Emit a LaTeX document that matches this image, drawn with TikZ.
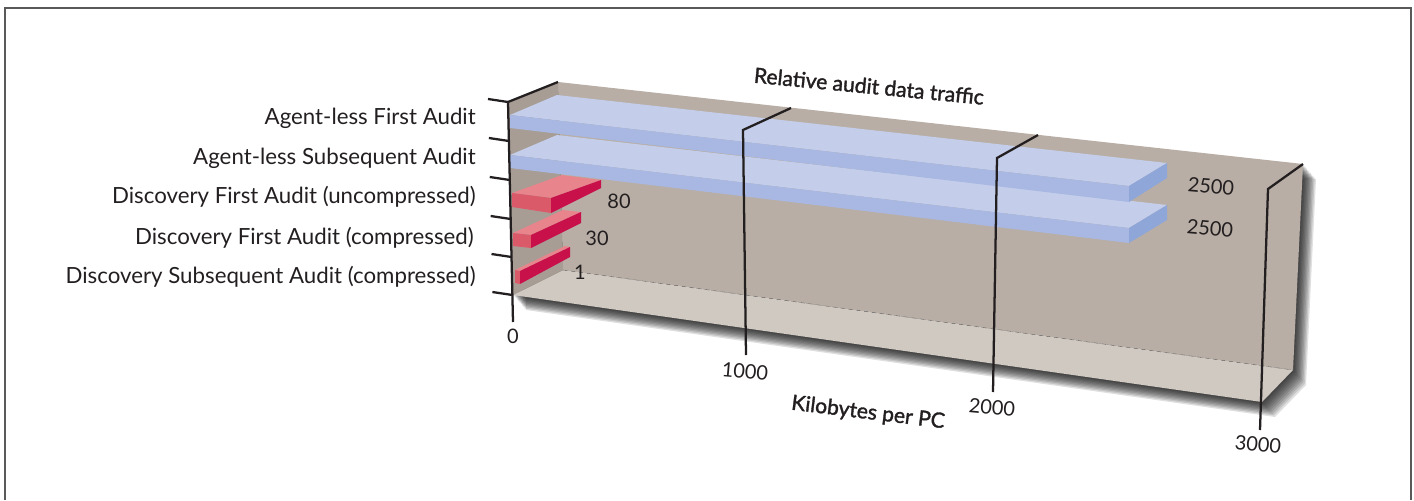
\documentclass[tikz,border=0pt]{standalone}
\usepackage{fontspec}
\setmainfont{Lato}
\definecolor{wallback}{RGB}{184,174,165}
\definecolor{wallside}{RGB}{167,157,149}
\definecolor{floorc}{RGB}{208,201,194}
\definecolor{bluetop}{RGB}{196,206,235}
\definecolor{bluefront}{RGB}{168,184,226}
\definecolor{blueend}{RGB}{143,166,216}
\definecolor{redtop}{RGB}{232,132,140}
\definecolor{redfront}{RGB}{218,90,105}
\definecolor{redend}{RGB}{200,16,75}
\definecolor{inkc}{RGB}{35,31,32}
\tikzset{
  axisline/.style={draw=inkc,line width=1.7pt,line join=miter},
  catlabel/.style={anchor=east,inner sep=0pt,font=\fontsize{16.7}{19}\selectfont,text=inkc},
  vallabel/.style={inner sep=0pt,font=\fontsize{15}{17}\selectfont,text=inkc},
  titlelabel/.style={inner sep=0pt,font=\fontsize{15.8}{18}\selectfont\addfontfeature{FakeBold=1.6},text=inkc}
}
\begin{document}
\begin{tikzpicture}[x=0.75pt,y=-0.75pt]
    \useasboundingbox (0,0) rectangle (1414,500);
    %% frame
    \draw[gray!70!black,line width=1pt] (5,500) -- (5,8) -- (1411,8) -- (1411,500);
    %% shadow
    \foreach \s in {1,...,10}
        \fill[black,opacity=0.12,shift={(1.3*\s,1.5*\s)}] (508,102) -- (558,82) -- (1303,164) -- (1293,370) -- (1262,402) -- (513,295) -- cycle;
    %% walls and floor
    \fill[wallback] (558,82) -- (1303,164) -- (1293,370) -- (563,270) -- cycle;
    \fill[floorc] (513,295) -- (563,270) -- (1293,370) -- (1262,402) -- cycle;
    \fill[wallside] (508,102) -- (558,82) -- (563,270) -- (513,295) -- cycle;
    \draw[gray!80!black,line width=0.3pt,dashed] (563,270) -- (1293,370);
    %% red bars
    \fill[redtop] (515,270) -- (520,271) -- (570,247) -- (565,246) -- cycle;
    \fill[redfront] (515,270) -- (520,271) -- (520,284) -- (515,283) -- cycle;
    \fill[redend] (520,271) -- (570,247) -- (570,257) -- (520,284) -- cycle;
    \fill[redtop] (513,233) -- (531,235) -- (581,212) -- (563,210) -- cycle;
    \fill[redfront] (513,233) -- (531,235) -- (531,248) -- (513,246) -- cycle;
    \fill[redend] (531,235) -- (581,212) -- (581,223) -- (531,248) -- cycle;
    \fill[redtop] (512,193) -- (551,198) -- (601,180) -- (562,175) -- cycle;
    \fill[redfront] (512,193) -- (551,198) -- (551,213) -- (512,207) -- cycle;
    \fill[redend] (551,198) -- (601,180) -- (601,188) -- (551,213) -- cycle;
    %% blue bars
    \fill[bluetop] (510,155) -- (1129,228) -- (1167,205) -- (557,135) -- cycle;
    \fill[bluefront] (510,155) -- (1129,228) -- (1129,243) -- (510,168) -- cycle;
    \fill[blueend] (1129,228) -- (1167,205) -- (1167,220) -- (1129,243) -- cycle;
    \fill[bluetop] (510,115) -- (1129,186) -- (1167,163) -- (557,95) -- cycle;
    \fill[bluefront] (510,115) -- (1129,186) -- (1129,202) -- (510,128) -- cycle;
    \fill[blueend] (1129,186) -- (1167,163) -- (1167,178) -- (1129,202) -- cycle;
    %% grid lines
    \draw[axisline] (558,82) -- (508,102) -- (513,322);
    \draw[axisline] (791,108) -- (743,130) -- (746,355);
    \draw[axisline] (1038,135) -- (997,158) -- (993,392);
    \draw[axisline] (1303,164) -- (1268,189) -- (1260,430);
    %% ticks
    \foreach \ty in {102,141,180,219,257,295}
        \draw[axisline] ({508+(\ty-102)*5/220-20},\ty-3) -- ({508+(\ty-102)*5/220},\ty);
    %% categories
    \node[catlabel] (agfirst) at (476,118) {Agent-less First Audit};
    \node[catlabel] (agsub) at (476,158) {Agent-less Subsequent Audit};
    \node[catlabel] (dfunc) at (476,197) {Discovery First Audit (uncompressed)};
    \node[catlabel] (dfcomp) at (474,238) {Discovery First Audit (compressed)};
    \node[catlabel] (dscomp) at (476,277) {Discovery Subsequent Audit (compressed)};
    %% values
    \node[vallabel] (v80) at (619,201) {80};
    \node[vallabel] (v30) at (597,238) {30};
    \node[vallabel] (v1) at (580,272) {1};
    \node[vallabel,rotate=-5] (vagfirst) at (1211,186) {2500};
    \node[vallabel,rotate=-5] (vagsub) at (1210,228) {2500};
    %% scale
    \node[vallabel] (s0) at (513,336) {0};
    \node[vallabel,rotate=-5] (s1000) at (745,371) {1000};
    \node[vallabel,rotate=-5] (s2000) at (992,407) {2000};
    \node[vallabel,rotate=-5] (s3000) at (1258,444) {3000};
    %% titles
    \node[titlelabel,rotate=-5.5] (title) at (869,86) {Relative audit data traffic};
    \node[titlelabel,rotate=-7] (unit) at (868,413) {Kilobytes per PC};
\end{tikzpicture}
\end{document}
